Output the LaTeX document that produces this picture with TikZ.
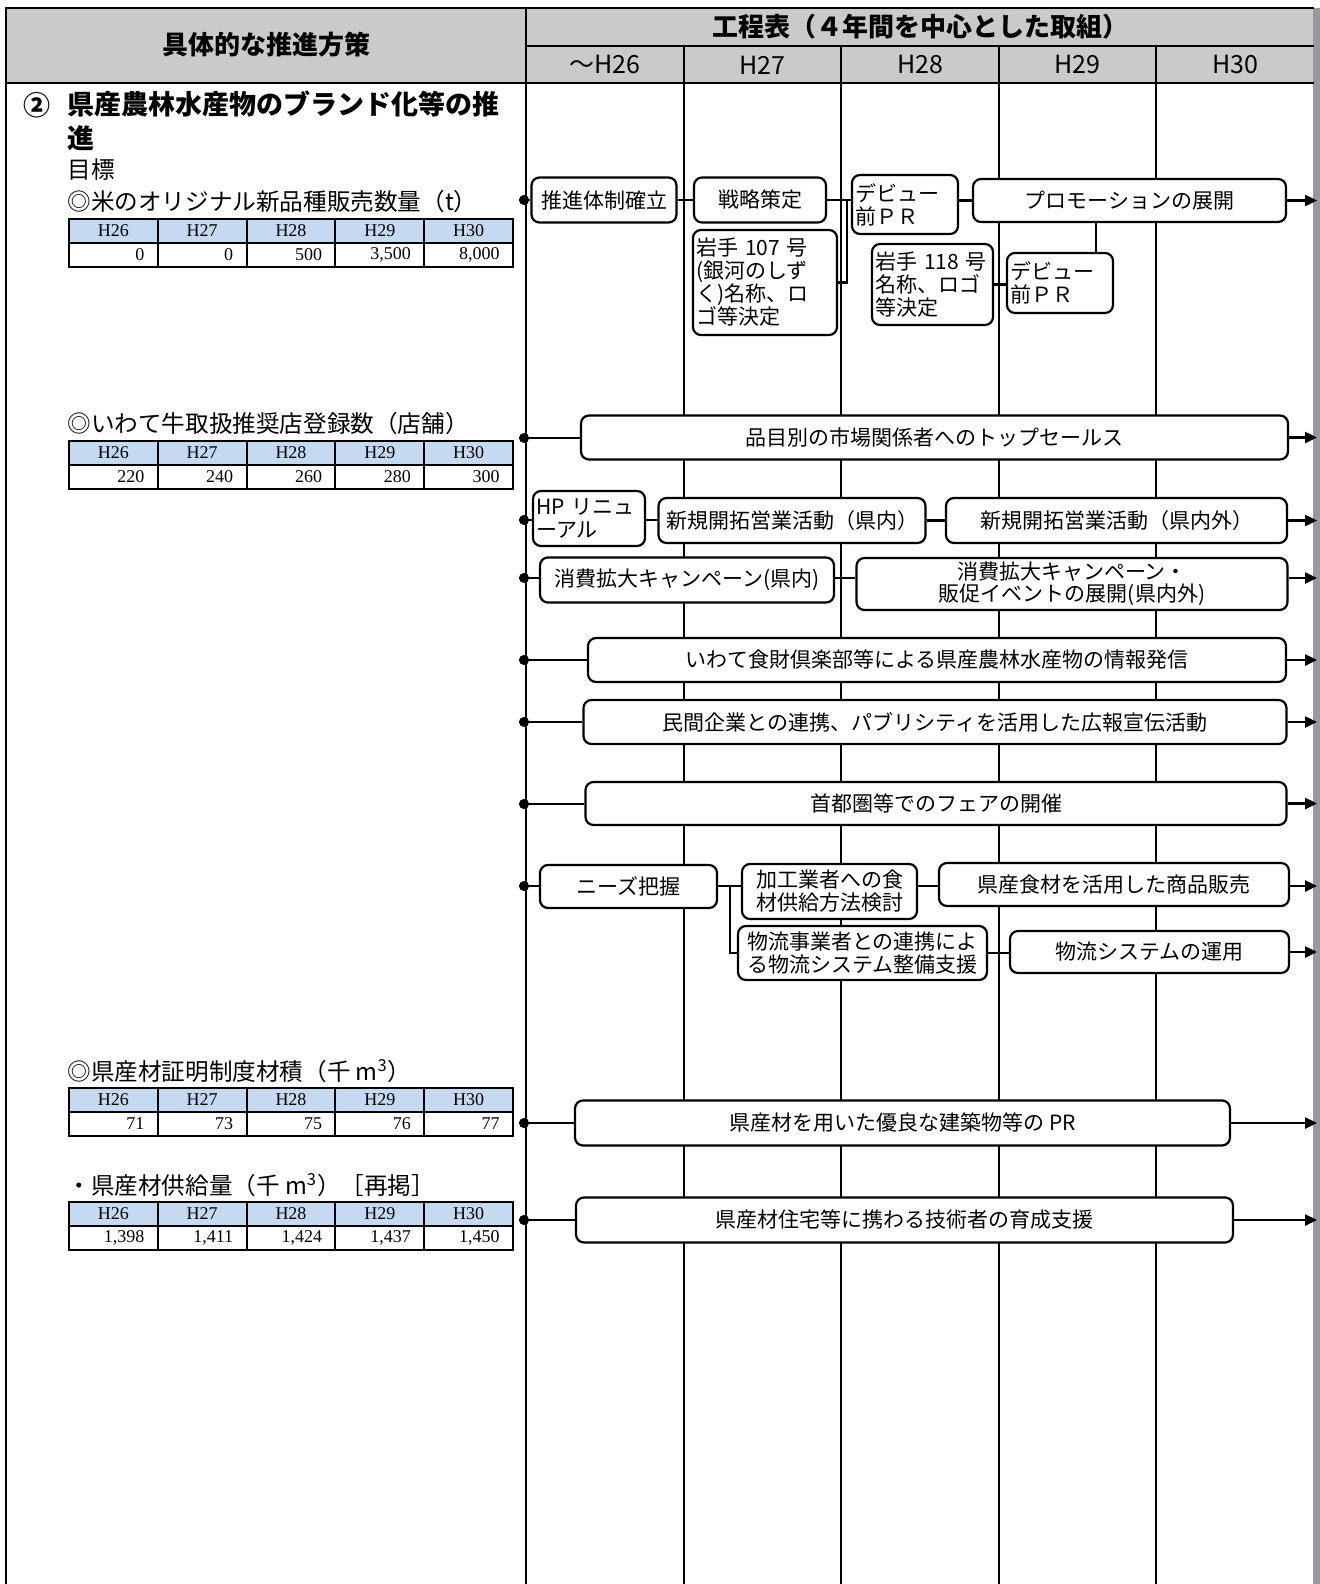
\documentclass[tikz,border=0pt]{standalone}
\usepackage{fontspec}
\setmainfont{Noto Sans CJK JP}
\newfontfamily\tabfont{Liberation Serif}
\usepackage{tikz}
\usetikzlibrary{arrows.meta}

\definecolor{headgray}{RGB}{201,202,203}
\definecolor{tabblue}{RGB}{197,217,241}
\definecolor{edgegray}{RGB}{152,153,157}

% target table: #1 = top, #2 = values, #3 = name prefix
\newcommand{\goaltab}[3]{%
  \fill[tabblue] (69, #1) rectangle (513, #1+24);
  \foreach \i in {1,...,4}
    \draw[line width=1pt] (69+88.8*\i, #1) -- (69+88.8*\i, #1+48);
  \draw[line width=1pt] (69, #1+24) -- (513, #1+24);
  \draw[line width=1.3pt] (69, #1) rectangle (513, #1+48);
  \foreach \yr [count=\i] in {H26,H27,H28,H29,H30}
    \node[tab] (#3h\i) at(24.6+88.8*\i, #1+12) {\yr};
  \foreach \val [count=\i] in {#2}
    \node[tab,anchor=east] (#3v\i) at(56+88.8*\i, #1+36) {\val};
}

\begin{document}
\begin{tikzpicture}[x=0.5pt,y=-0.5pt]
\tikzstyle{task}=[rectangle,rounded corners=4pt,align=center,draw,line width=1.1pt,fill=white,inner sep=1.5pt,font=\fontsize{10.5pt}{11.5pt}\selectfont]
\tikzstyle{memo}=[task,align=left]
\tikzstyle{wire}=[line width=1.2pt]
\tikzstyle{dotline}=[wire,{Circle[length=5pt]}-]
\tikzstyle{arrowline}=[wire,-{Triangle[length=6pt,width=5.5pt]}]
\tikzstyle{colline}=[line width=1pt]
\tikzstyle{borderline}=[line width=1.4pt]
\tikzstyle{head}=[font=\bfseries\fontsize{13pt}{15pt}\selectfont]
\tikzstyle{yearlbl}=[font=\fontsize{12.5pt}{14pt}\selectfont]
\tikzstyle{lbl}=[anchor=west,inner sep=0pt,font=\fontsize{11.8pt}{14pt}\selectfont]
\tikzstyle{tab}=[inner sep=0pt,font=\tabfont\fontsize{9pt}{10pt}\selectfont]

\useasboundingbox (0, 0) rectangle (1320, 1584);

% frame and header
\fill[headgray] (6, 8) rectangle (1314, 83);
\fill[edgegray] (1313, 8) rectangle (1320, 1584);
\foreach \x in {684, 841, 999, 1156}
  \draw[colline] (\x, 46) -- (\x, 1584);
\draw[borderline] (6, 1584) -- (6, 8) -- (1314, 8);
\draw[borderline] (526, 8) -- (526, 1584);
\draw[borderline] (526, 46) -- (1314, 46);
\draw[borderline] (6, 83) -- (1314, 83);

\node[head] (hl) at(266, 45) {具体的な推進方策};
\node[head] (hr) at(920, 27) {工程表（４年間を中心とした取組）};
\foreach \x/\yr [count=\i] in {605/～H26, 762/H27, 920/H28, 1077/H29, 1235/H30}
  \node[yearlbl] (y\i) at(\x, 65) {\yr};

% left column
\node[font=\bfseries\fontsize{13.5pt}{17pt}\selectfont] (no) at(37, 105) {②};
\node[anchor=west,inner sep=0pt,align=left,font=\bfseries\fontsize{13.5pt}{17pt}\selectfont] (ti) at(67, 121) {県産農林水産物のブランド化等の推\\進};
\node[lbl] (mk) at(67, 170) {目標};
\node[lbl] (g1) at(67, 202) {◎米のオリジナル新品種販売数量（t）};
\goaltab{219}{0,0,500,{3,500},{8,000}}{ta}
\node[lbl] (g2) at(67, 424) {◎いわて牛取扱推奨店登録数（店舗）};
\goaltab{441}{220,240,260,280,300}{tb}
\node[lbl] (g3) at(67, 1071) {◎県産材証明制度材積（千 m\textsuperscript{3}）};
\goaltab{1088}{71,73,75,76,77}{tc}
\node[lbl] (g4) at(67, 1185) {・県産材供給量（千 m\textsuperscript{3}）［再掲］};
\goaltab{1202}{{1,398},{1,411},{1,424},{1,437},{1,450}}{td}

% row starts and right edge
\foreach \n/\y in {1/200, 2/438, 3/520, 4/578, 5/660, 6/722, 7/804, 8/886, 9/1123, 10/1220}
  \coordinate (s\n) at(519, \y);
\coordinate (rt) at(1317, 0);

% rice
\node[task,minimum width=72.5pt,minimum height=22.5pt] at(604, 200) (r1a) {推進体制確立};
\node[task,minimum width=66pt,minimum height=22.5pt] at(760, 200) (r1b) {戦略策定};
\node[memo,text width=50pt,minimum height=29.5pt] at(905, 204.5) (r1c) {デビュー\\前ＰＲ};
\node[task,minimum width=156.5pt,minimum height=21.5pt] at(1129.5, 200.5) (r1d) {プロモーションの展開};
\node[memo,text width=69pt,minimum height=52.5pt] at(765, 282.5) (r1e) {岩手 107 号\\(銀河のしず\\く)名称、ロ\\ゴ等決定};
\node[memo,text width=57.5pt,minimum height=40.5pt] at(932.5, 284.5) (r1f) {岩手 118 号\\名称、ロゴ\\等決定};
\node[memo,text width=50pt,minimum height=30pt] at(1060, 283) (r1g) {デビュー\\前ＰＲ};

% sales
\node[task,minimum width=353.5pt,minimum height=22pt] at(934.5, 437.5) (r2) {品目別の市場関係者へのトップセールス};
\node[memo,text width=53pt,minimum height=27.5pt] at(589, 518.5) (r3a) {HP リニュ\\ーアル};
\node[task,minimum width=133.5pt,minimum height=22.5pt] at(792, 520.5) (r3b) {新規開拓営業活動（県内）};
\node[task,minimum width=170.5pt,minimum height=22.5pt] at(1116.5, 520.5) (r3c) {新規開拓営業活動（県内外）};
\node[task,minimum width=147pt,minimum height=22.5pt] at(687, 580) (r4a) {消費拡大キャンペーン(県内)};
\node[task,minimum width=215.5pt,minimum height=26pt,font=\fontsize{10.5pt}{11pt}\selectfont] at(1072, 584) (r4b) {消費拡大キャンペーン・\\販促イベントの展開(県内外)};
\node[task,minimum width=349pt,minimum height=22pt] at(937, 660) (r5) {いわて食財倶楽部等による県産農林水産物の情報発信};
\node[task,minimum width=351.5pt,minimum height=22pt] at(935, 722) (r6) {民間企業との連携、パブリシティを活用した広報宣伝活動};
\node[task,minimum width=350.5pt,minimum height=21.5pt] at(936, 803.5) (r7) {首都圏等でのフェアの開催};

% processing and logistics
\node[task,minimum width=88.5pt,minimum height=21.5pt] at(628.5, 886.5) (r8a) {ニーズ把握};
\node[task,minimum width=87.5pt,minimum height=27.5pt] at(829.5, 891.5) (r8b) {加工業者への食\\材供給方法検討};
\node[task,minimum width=175pt,minimum height=21.5pt] at(1114, 884.5) (r8c) {県産食材を活用した商品販売};
\node[task,minimum width=124.5pt,minimum height=27pt] at(862.5, 953) (r8d) {物流事業者との連携によ\\る物流システム整備支援};
\node[task,minimum width=139.5pt,minimum height=21pt] at(1149.5, 952) (r8e) {物流システムの運用};

% timber
\node[task,minimum width=327.5pt,minimum height=22.5pt] at(902.5, 1123) (r9) {県産材を用いた優良な建築物等の PR};
\node[task,minimum width=328.5pt,minimum height=22.5pt] at(904.5, 1220) (r10) {県産材住宅等に携わる技術者の育成支援};

% links
\draw[dotline] (s1) -- (s1 -| r1a.west);
\draw[wire] (r1a.east) -- (r1b.west);
\draw[wire] (r1b.east) -- (r1b.east -| r1c.west);
\draw[wire] (r1c.east |- r1d.west) -- (r1d.west);
\draw[arrowline] (r1d.east) -- (r1d.east -| rt);
\coordinate (j1) at(847, 200);
\draw[wire] (j1) |- (r1e.east);
\draw[wire] (r1f.east) -- (r1f.east -| r1g.west);
\coordinate (k1) at([xshift=18pt]r1g.north);
\draw[wire] (k1) -- (k1 |- r1d.south);

\draw[dotline] (s2) -- (s2 -| r2.west);
\draw[arrowline] (r2.east) -- (r2.east -| rt);

\draw[dotline] (s3) -- (s3 -| r3a.west);
\draw[wire] (s3 -| r3a.east) -- (s3 -| r3b.west);
\draw[wire] (r3b.east) -- (r3c.west);
\draw[arrowline] (r3c.east) -- (r3c.east -| rt);

\draw[dotline] (s4) -- (s4 -| r4a.west);
\draw[wire] (s4 -| r4a.east) -- (s4 -| r4b.west);
\draw[arrowline] (s4 -| r4b.east) -- (s4 -| rt);

\draw[dotline] (s5) -- (s5 -| r5.west);
\draw[arrowline] (r5.east) -- (r5.east -| rt);
\draw[dotline] (s6) -- (s6 -| r6.west);
\draw[arrowline] (r6.east) -- (r6.east -| rt);
\draw[dotline] (s7) -- (s7 -| r7.west);
\draw[arrowline] (r7.east) -- (r7.east -| rt);

\draw[dotline] (s8) -- (s8 -| r8a.west);
\draw[wire] (s8 -| r8a.east) -- (s8 -| r8b.west);
\draw[wire] (s8 -| r8b.east) -- (s8 -| r8c.west);
\draw[arrowline] (s8 -| r8c.east) -- (s8 -| rt);
\coordinate (j8) at(730, 886);
\draw[wire] (j8) |- (r8d.west);
\draw[wire] (r8d.east) -- (r8d.east -| r8e.west);
\draw[arrowline] (r8e.east) -- (r8e.east -| rt);

\draw[dotline] (s9) -- (s9 -| r9.west);
\draw[arrowline] (r9.east) -- (r9.east -| rt);
\draw[dotline] (s10) -- (s10 -| r10.west);
\draw[arrowline] (r10.east) -- (r10.east -| rt);
\end{tikzpicture}
\end{document}
